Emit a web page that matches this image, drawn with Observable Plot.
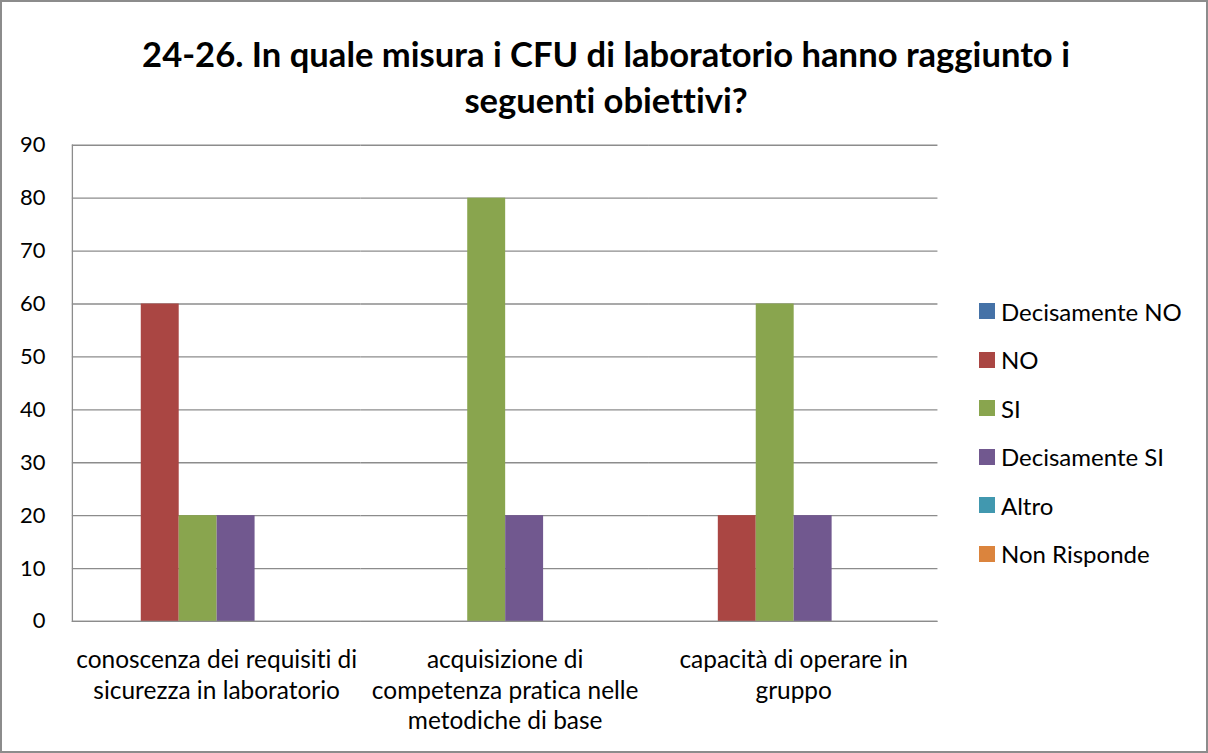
<!DOCTYPE html>
<html><head><meta charset="utf-8">
<script src="https://cdn.jsdelivr.net/npm/d3@7"></script>
<script src="https://cdn.jsdelivr.net/npm/@observablehq/plot@0.6"></script>
<style>
html,body{margin:0;padding:0;background:#fff;}
#wrap{position:relative;width:1208px;height:753px;box-sizing:border-box;border:2px solid #8c8c8c;font-family:Lato,"Open Sans",sans-serif;overflow:hidden;font-variant-ligatures:none;}
#title{position:absolute;left:0;top:29px;width:1208px;text-align:center;font-weight:bold;font-size:34.6px;line-height:46px;color:#000;}
#plot{position:absolute;left:-2px;top:-2px;}
#legend{position:absolute;left:977px;top:285px;}
.li{display:flex;align-items:center;height:48.5px;font-size:24px;color:#000;}
.sw{width:16px;height:16px;margin-right:6px;}
svg text{font-variant-ligatures:none;}
</style></head>
<body>
<div id="wrap">
<div id="plot"></div>
<div id="title">24-26. In quale misura i CFU di laboratorio hanno raggiunto i<br>seguenti obiettivi?</div>
<div id="legend"></div>
</div>
<script>
const categories = [
  "conoscenza dei requisiti di\nsicurezza in laboratorio",
  "acquisizione di\ncompetenza pratica nelle\nmetodiche di base",
  "capacità di operare in\ngruppo"
];
const series = ["Decisamente NO", "NO", "SI", "Decisamente SI", "Altro", "Non Risponde"];
const colors = ["#4572A7", "#AA4643", "#89A54E", "#71588F", "#4198AF", "#DB843D"];
const values = [
  [0, 60, 20, 20, 0, 0],
  [0, 0, 80, 20, 0, 0],
  [0, 20, 60, 20, 0, 0]
];
const yTicks = [0, 10, 20, 30, 40, 50, 60, 70, 80, 90];

const data = [];
categories.forEach((c, i) => series.forEach((s, j) => data.push({category: c, series: s, value: values[i][j]})));

const chart = Plot.plot({
  width: 1208,
  height: 753,
  marginLeft: 72,
  marginRight: 269,
  marginTop: 145,
  marginBottom: 131,
  style: {fontFamily: "Lato, 'Open Sans', sans-serif", fontSize: "20px", color: "#000", background: "transparent"},
  fx: {domain: categories, padding: 0, label: null},
  x: {domain: series, paddingInner: 0, paddingOuter: 0.8, axis: null},
  y: {domain: [0, 90], label: null},
  color: {domain: series, range: colors},
  marks: [
    Plot.gridY(yTicks, {stroke: "#8c8c8c", strokeOpacity: 1, strokeWidth: 1.3}),
    Plot.barY(data, {fx: "category", x: "series", y: "value", fill: "series"}),
    Plot.ruleY([0], {stroke: "#8c8c8c", strokeWidth: 1.3}),
    Plot.frame({anchor: "left", stroke: "#8c8c8c", strokeWidth: 1.3, facet: "super"}),
    Plot.axisY(yTicks, {tickSize: 0, tickPadding: 27, fontSize: 22, fill: "#000"}),
    Plot.axisFx({anchor: "bottom", tickSize: 0, tickPadding: 25, fontSize: 24.5, lineHeight: 1.25, fill: "#000", label: null})
  ]
});
document.getElementById("plot").appendChild(chart);

const leg = document.getElementById("legend");
series.forEach((s, i) => {
  const d = document.createElement("div");
  d.className = "li";
  d.innerHTML = `<div class="sw" style="background:${colors[i]}"></div><span>${s}</span>`;
  leg.appendChild(d);
});
</script>
</body></html>
